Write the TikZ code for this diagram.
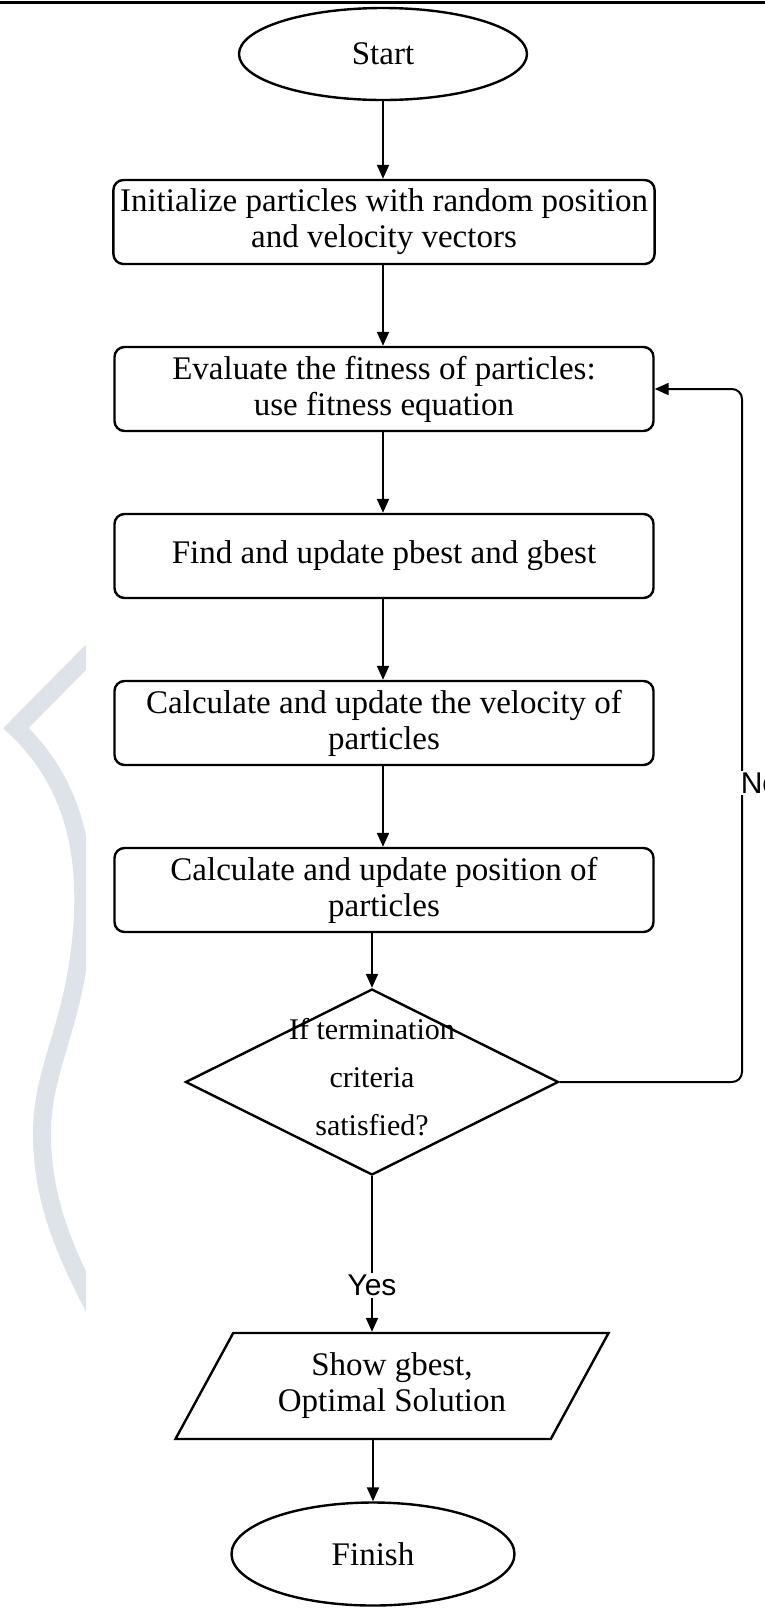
\documentclass[tikz,border=0pt]{standalone}
\usepackage{fontspec}
\setmainfont{Liberation Serif}
\newfontfamily\labelfont{Liberation Sans}
\usetikzlibrary{shapes.geometric,arrows.meta,calc}

\definecolor{markgray}{HTML}{DDE3E8}

\begin{document}
\begin{tikzpicture}[x=0.5pt,y=-0.5pt,
    every node/.style={font=\fontsize{16.5}{18}\selectfont},
    terminal/.style={draw,ellipse,line width=1.2pt,minimum width=144pt,minimum height=46pt},
    process/.style={draw,rounded corners=5pt,line width=1.2pt,minimum width=269.5pt,minimum height=42pt,align=center},
    decision/.style={draw,diamond,aspect=2,line width=1.2pt,inner sep=0pt,minimum width=186.5pt,minimum height=93pt},
    io/.style={draw,trapezium,trapezium left angle=61,trapezium right angle=119,trapezium stretches=true,line width=1.2pt,minimum width=217pt,minimum height=53pt,align=center},
    flow/.style={-{Triangle[width=6pt,length=7pt]},line width=1pt},
    answer/.style={font=\labelfont\fontsize{15}{17}\selectfont,fill=white,inner sep=1pt}]
    \useasboundingbox (0,0) rectangle (765,1613);
    % rule at the top
    \draw[line width=1.5pt] (0,2) -- (765,2);
    % watermark on the left
    \begin{scope}
        \clip (0,600) rectangle (86,1320);
        \draw[markgray,line width=9pt,line join=miter] (95,648) -- (16,728) .. controls (60,770) and (90,830) .. (82,930) .. controls (74,1030) and (40,1070) .. (42,1140) .. controls (44,1210) and (70,1260) .. (95,1310);
    \end{scope}
    % flow chart
    \node[terminal] (start) at (383,54) {Start};
    \node[process] (init) at (384,222) {Initialize particles with random position\\and velocity vectors};
    \node[process] (eval) at (384,389) {Evaluate the fitness of particles:\\use fitness equation};
    \node[process] (best) at (384,556) {Find and update pbest and gbest};
    \node[process] (vel) at (384,723) {Calculate and update the velocity of\\particles};
    \node[process] (pos) at (384,890) {Calculate and update position of\\particles};
    \node[decision] (cond) at (372,1082) {};
    \node[align=center,font=\fontsize{15}{17}\selectfont] (condtext) at (372,1077) {If termination\\[7pt]criteria\\[7pt]satisfied?};
    \node[io] (show) at (392,1386) {Show gbest,\\Optimal Solution};
    \node[terminal,minimum width=141.5pt,minimum height=51.5pt] (finish) at (373,1554) {Finish};
    \coordinate (loop) at (742,0);
    \draw[flow] (start) -- (start |- init.north);
    \draw[flow] (init.south -| start) -- (start |- eval.north);
    \draw[flow] (eval.south -| start) -- (start |- best.north);
    \draw[flow] (best.south -| start) -- (start |- vel.north);
    \draw[flow] (vel.south -| start) -- (start |- pos.north);
    \draw[flow] (pos.south -| cond.north) -- (cond.north);
    \draw[flow] (cond.south) -- node[answer,pos=0.7] (yes) {Yes} (cond.south |- show.north);
    \draw[flow] (finish.north |- show.south) -- (finish.north);
    \draw[flow,rounded corners=5pt] (cond.east) -- (cond.east -| loop) -- (loop |- eval.east) -- (eval.east);
    \node[answer] (no) at (760,783) {No};
\end{tikzpicture}
\end{document}
